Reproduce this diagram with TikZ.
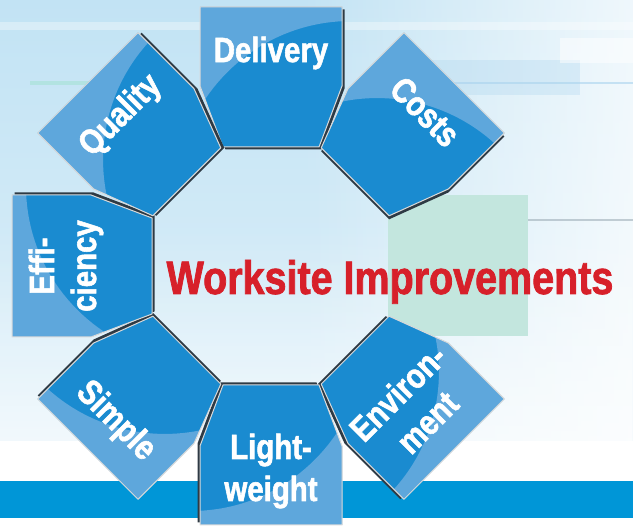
\documentclass[tikz,border=0pt]{standalone}
\usepackage{fontspec}
\setmainfont[FakeStretch=0.84, BoldFeatures={FakeBold=1.6}]{Liberation Sans}
\usetikzlibrary{fadings}

\definecolor{tileblue}{HTML}{1A8BD0}
\definecolor{tilegloss}{HTML}{5EA7DC}
\definecolor{tileshade}{HTML}{2E3A44}
\definecolor{skyblue}{HTML}{C2E3F4}
\definecolor{streakblue}{HTML}{A9D3EE}
\definecolor{barblue}{HTML}{0096D7}
\definecolor{mint}{HTML}{C3E6DE}
\definecolor{titlered}{HTML}{D7202A}

\tikzfading[name=solidright, left color=transparent!100, right color=transparent!0]
\tikzfading[name=solidbottom, top color=transparent!100, bottom color=transparent!0]

\tikzset{
  tile/.style={fill=tileblue, draw=white!70!gray, line width=1pt, line join=round},
  tileshadow/.style={fill=tileshade},
  tileglare/.style={fill=tilegloss, even odd rule},
  tilelabel/.style={text=white, font=\bfseries\fontsize{35}{42}\selectfont,
    align=center, inner sep=0pt},
  titlelabel/.style={text=titlered, font=\bfseries\fontsize{47}{56}\selectfont,
    inner sep=0pt},
}
\newcommand\tilepath{(-71,259) -- (71,259) -- (71,180) -- (48,119) -- (-48,119) -- (-71,180) -- cycle}

\begin{document}
\begin{tikzpicture}[x=1pt, y=1pt]
\useasboundingbox (0,0) rectangle (633,528);
% background
\fill[white] (0,0) rectangle (633,528);
\shade[top color=skyblue, bottom color=skyblue!55!white] (0,87) rectangle (633,528);
\fill[white, path fading=solidright, opacity=0.75] (300,87) rectangle (633,528);
\fill[white, path fading=solidbottom, opacity=0.6] (0,87) rectangle (633,300);
\fill[white, opacity=0.35] (0,498) rectangle (633,506);
\fill[streakblue, opacity=0.6] (380,444) rectangle (633,446);
\fill[streakblue!70!green, opacity=0.25] (30,443) rectangle (90,447);
\fill[streakblue, opacity=0.3] (430,433) rectangle (580,468);
\fill[white, opacity=0.5] (560,465) rectangle (633,490);
\fill[gray!60!streakblue, opacity=0.5] (480,307) rectangle (633,309);
\fill[mint] (388,192) rectangle (528,333);
\fill[barblue] (0,10) rectangle (633,47);
% ring of tiles
\foreach \ang/\dist/\rot/\name/\txt in {
    0/213/0/delivery/Delivery,
    -45/218/-45/costs/Costs,
    -135/200/45/environment/{Environ-\\ment},
    180/205/0/lightweight/{Light-\\weight},
    135/220/-45/simple/Simple,
    90/205/90/efficiency/{Effi-\\ciency},
    45/212/45/quality/Quality} {
  \begin{scope}[shift={(271,262)}, rotate=\ang]
    \fill[tileshadow, shift={(2.5,-2.5)}] \tilepath;
    \fill[tileblue] \tilepath;
    \begin{scope}
      \clip \tilepath;
      \fill[tileglare] (-90,100) rectangle (90,270) (80,70) circle (175);
    \end{scope}
    \draw[tile, fill=none] \tilepath;
    \node[tilelabel, rotate=\rot] (\name) at (0,\dist) {\txt};
  \end{scope}
}
\node[titlelabel, anchor=base] (title) at (390,234) {Worksite Improvements};
\end{tikzpicture}
\end{document}
